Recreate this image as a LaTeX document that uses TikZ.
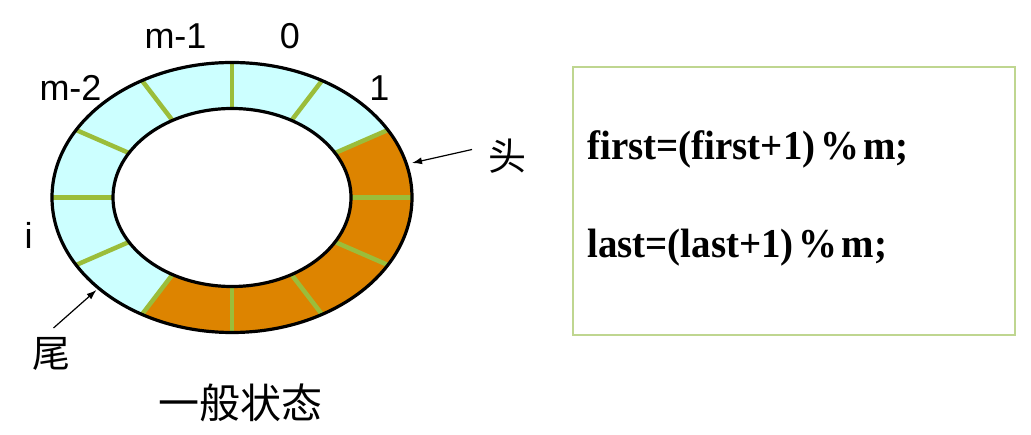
\documentclass[tikz,border=0pt]{standalone}
\usepackage{fontspec}
\setmainfont{Liberation Serif}
\setsansfont{Liberation Sans}
\newfontfamily\cjk{Noto Sans CJK SC}
\newfontfamily\codefont[FakeStretch=0.95]{Liberation Serif}
\usetikzlibrary{arrows.meta}
\tikzset{>={Latex[width=7pt,length=10pt]}}
\definecolor{ringcyan}{HTML}{CCFFFF}
\definecolor{ringorange}{HTML}{DD8400}
\definecolor{divgreen}{HTML}{9BBD3A}
\definecolor{boxgreen}{HTML}{BFD690}
\tikzset{
  lab/.style={inner sep=0pt, font=\sffamily\fontsize{36}{40}\selectfont},
  cjklab/.style={inner sep=0pt, font=\cjk\fontsize{38}{42}\selectfont},
  divider/.style={draw=divgreen, line width=4.5pt},
  ringline/.style={draw=black, line width=3.2pt},
  pointer/.style={->, line width=1.2pt},
  codeline/.style={inner sep=0pt, anchor=base west, font=\codefont\bfseries\fontsize{41}{46}\selectfont}
}

\begin{document}
\begin{tikzpicture}[x=1pt,y=1pt]
\newcommand\OutX{180}
\newcommand\OutY{135}
\newcommand\InX{119}
\newcommand\InY{89}

\useasboundingbox (0,0) rectangle (1031,-435);
\coordinate (c) at (232,-197.5);

% ring cells
\fill[ringcyan, even odd rule] (c) ellipse[x radius=\OutX pt, y radius=\OutY pt] (c) ellipse[x radius=\InX pt, y radius=\InY pt];
\fill[ringorange] ([shift={(c)}]30:\OutX pt and \OutY pt) arc[start angle=30, end angle=-120, x radius=\OutX pt, y radius=\OutY pt]
  -- ([shift={(c)}]-120:\InX pt and \InY pt) arc[start angle=-120, end angle=30, x radius=\InX pt, y radius=\InY pt] -- cycle;

\draw[divider] ([shift={(c)}]0:\InX pt and \InY pt) -- ([shift={(c)}]0:\OutX pt and \OutY pt);
\draw[divider] ([shift={(c)}]30:\InX pt and \InY pt) -- ([shift={(c)}]30:\OutX pt and \OutY pt);
\draw[divider] ([shift={(c)}]60:\InX pt and \InY pt) -- ([shift={(c)}]60:\OutX pt and \OutY pt);
\draw[divider] ([shift={(c)}]90:\InX pt and \InY pt) -- ([shift={(c)}]90:\OutX pt and \OutY pt);
\draw[divider] ([shift={(c)}]120:\InX pt and \InY pt) -- ([shift={(c)}]120:\OutX pt and \OutY pt);
\draw[divider] ([shift={(c)}]150:\InX pt and \InY pt) -- ([shift={(c)}]150:\OutX pt and \OutY pt);
\draw[divider] ([shift={(c)}]180:\InX pt and \InY pt) -- ([shift={(c)}]180:\OutX pt and \OutY pt);
\draw[divider] ([shift={(c)}]210:\InX pt and \InY pt) -- ([shift={(c)}]210:\OutX pt and \OutY pt);
\draw[divider] ([shift={(c)}]240:\InX pt and \InY pt) -- ([shift={(c)}]240:\OutX pt and \OutY pt);
\draw[divider] ([shift={(c)}]270:\InX pt and \InY pt) -- ([shift={(c)}]270:\OutX pt and \OutY pt);
\draw[divider] ([shift={(c)}]300:\InX pt and \InY pt) -- ([shift={(c)}]300:\OutX pt and \OutY pt);
\draw[divider] ([shift={(c)}]330:\InX pt and \InY pt) -- ([shift={(c)}]330:\OutX pt and \OutY pt);

\draw[ringline] (c) ellipse[x radius=\OutX pt, y radius=\OutY pt];
\draw[ringline] (c) ellipse[x radius=\InX pt, y radius=\InY pt];

% index labels
\node[lab] (mone) at (175.5,-36) {m-1};
\node[lab] (zero) at (290,-36) {0};
\node[lab] (one) at (379.5,-88) {1};
\node[lab] (mtwo) at (70.5,-88) {m-2};
\node[lab] (idx) at (28.5,-235) {i};

% head and tail
\node[cjklab] (head) at (507,-156) {头};
\node[cjklab] (tail) at (51,-354) {尾};
\node[cjklab, font=\cjk\fontsize{41}{46}\selectfont] (state) at (240,-403) {一般状态};
\coordinate (headtail) at (472,-149.5);
\coordinate (headtip) at (412,-163);
\coordinate (tailtail) at (53.5,-328);
\coordinate (tailtip) at (96.5,-290);
\draw[pointer] (headtail) -- (headtip);
\draw[pointer] (tailtail) -- (tailtip);

% code box
\node[draw=boxgreen, line width=1.5pt, minimum width=442pt, minimum height=268pt] (code) at (794,-201) {};
\node[codeline] (first) at (587,-160) {first=(first+1)\hspace{0.12em}\%\hspace{0.1em}m;};
\node[codeline] (last) at (587,-258) {last=(last+1)\hspace{0.12em}\%\hspace{0.1em}m;};
\end{tikzpicture}
\end{document}
